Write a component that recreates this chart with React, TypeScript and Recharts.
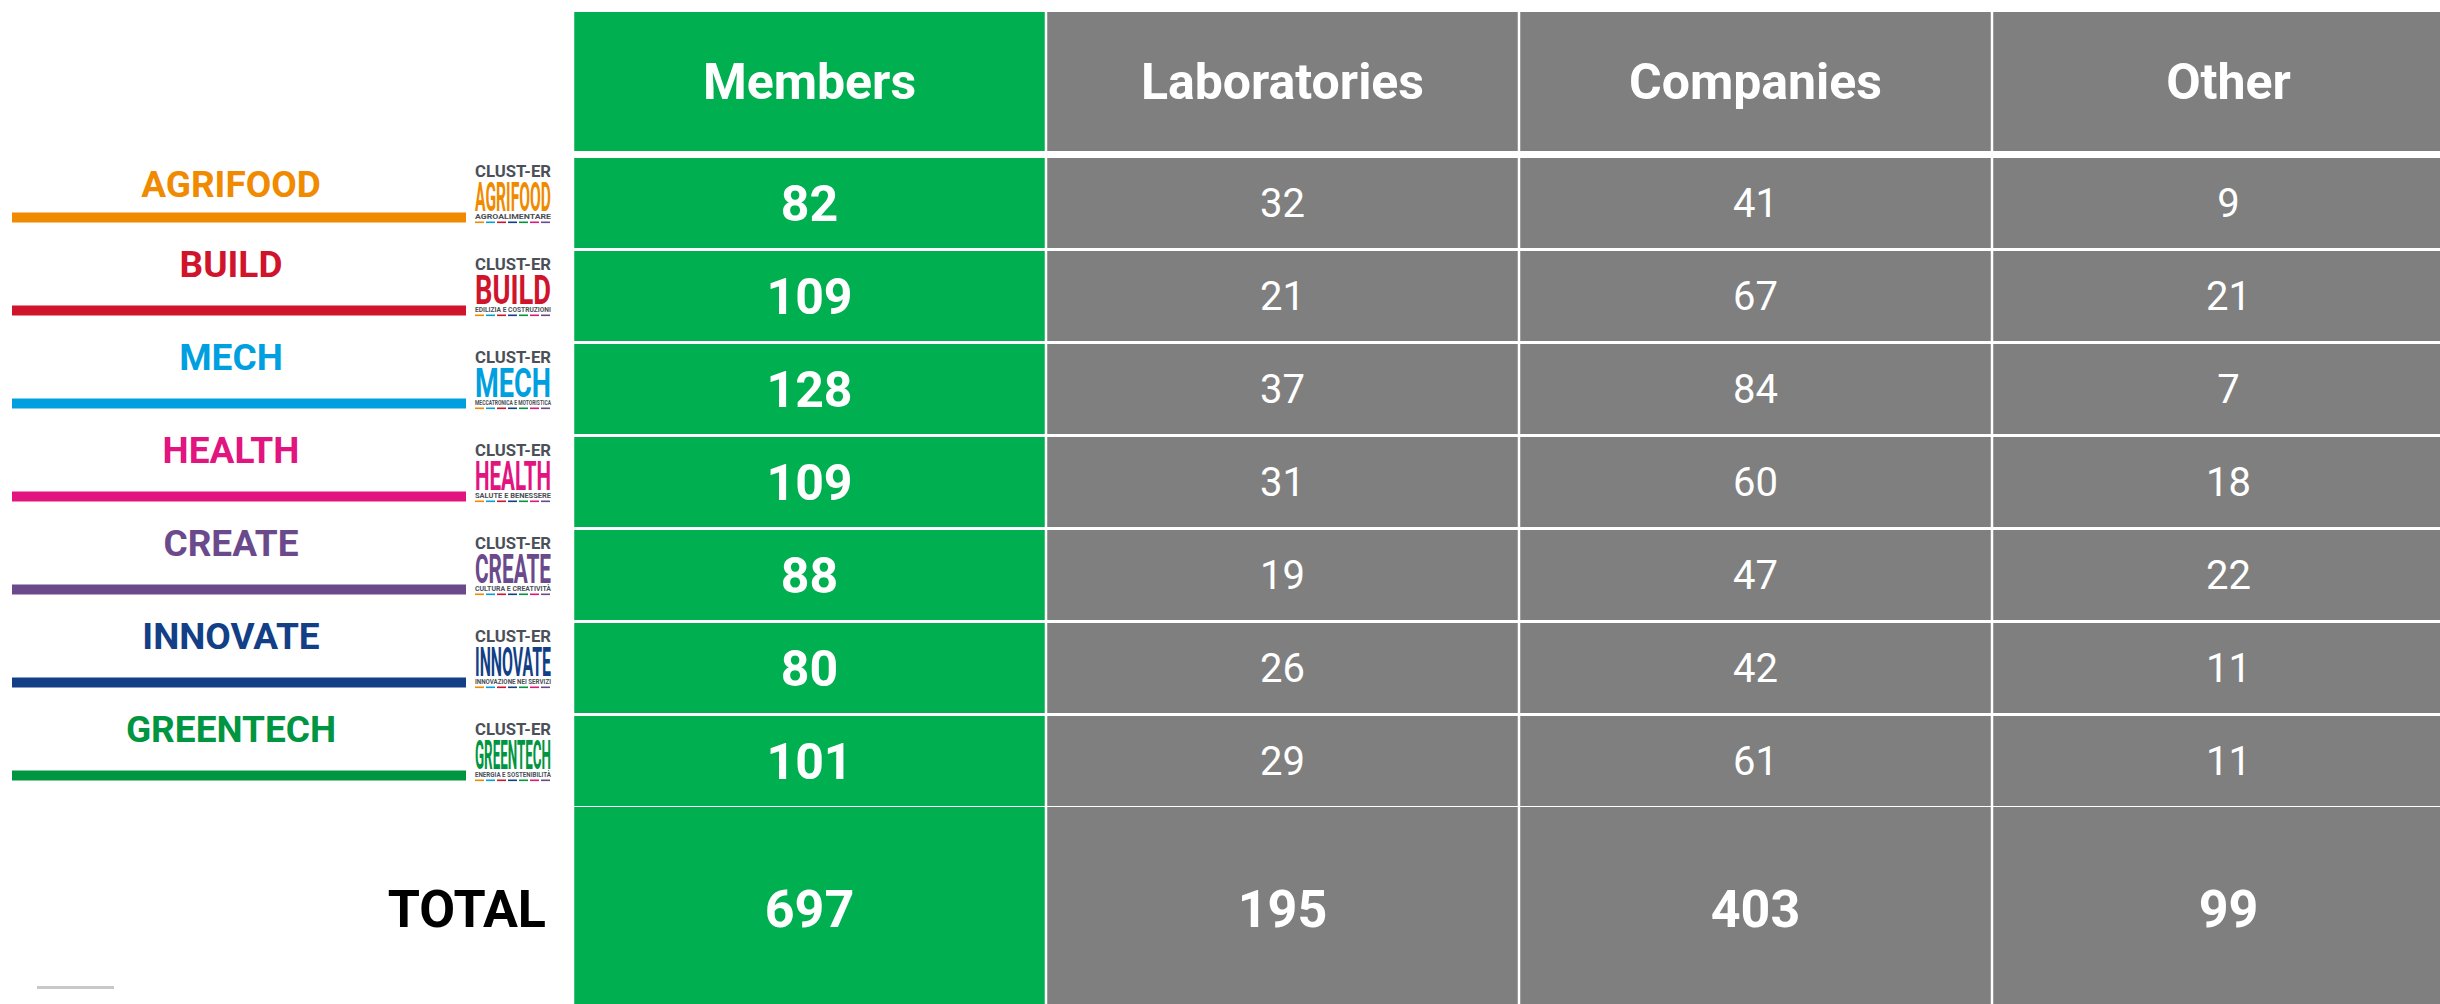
import React from "react";
import { BarChart, Bar, XAxis, YAxis } from "recharts";

const CLUSTERS = ["AGRIFOOD", "BUILD", "MECH", "HEALTH", "CREATE", "INNOVATE", "GREENTECH"];
const CLUSTER_SUBTITLES = [
  "AGROALIMENTARE",
  "EDILIZIA E COSTRUZIONI",
  "MECCATRONICA E MOTORISTICA",
  "SALUTE E BENESSERE",
  "CULTURA E CREATIVITÀ",
  "INNOVAZIONE NEI SERVIZI",
  "ENERGIA E SOSTENIBILITÀ",
];
const CLUSTER_COLORS = ["#f08a00", "#d0142c", "#009fdf", "#e2147f", "#6b4a8c", "#123f86", "#009540"];

const COLUMNS = ["Members", "Laboratories", "Companies", "Other"];
const MEMBERS = [82, 109, 128, 109, 88, 80, 101];
const LABS = [32, 21, 37, 31, 19, 26, 29];
const COMPANIES = [41, 67, 84, 60, 47, 42, 61];
const OTHER = [9, 21, 7, 18, 22, 11, 11];
const TOTALS = [697, 195, 403, 99];

const KEYS = ["members", "labs", "companies", "other"];
const GREEN = "#00b050";
const GREY = "#7f7f7f";
const COLUMN_FILLS = [GREEN, GREY, GREY, GREY];
const LOGO_DASHES = ["#f08a00", "#009fdf", "#d0142c", "#123f86", "#009540", "#e2147f", "#6b4a8c"];
const FONT = "Roboto, sans-serif";

// every column of the table takes one unit on the x axis
const SPANS = KEYS.map(() => () => 1);

const rowData = CLUSTERS.map((name, i) => ({
  name,
  members: MEMBERS[i],
  labs: LABS[i],
  companies: COMPANIES[i],
  other: OTHER[i],
}));
const headerData = [{ name: "header", ...Object.fromEntries(KEYS.map((k, i) => [k, COLUMNS[i]])) }];
const totalData = [{ name: "TOTAL", ...Object.fromEntries(KEYS.map((k, i) => [k, TOTALS[i]])) }];

const LEFT = 573;
const CHART_W = LEFT + 4 * 473;
const HEADER_TOP = 12;
const HEADER_H = 139;
const ROWS_TOP = 156;
const ROWS_H = 651;
const TOTAL_TOP = 807;
const TOTAL_H = 204;

function makeCell(key: string, fill: string, size: number, weight: number) {
  return (p: any) => {
    const { x, y, width, height, payload } = p;
    return (
      <g>
        <rect x={x + 1.25} y={y} width={width - 2.5} height={height} fill={fill} />
        <text
          x={x + width / 2}
          y={y + height / 2 + size * 0.355}
          textAnchor="middle"
          fill="#ffffff"
          fontSize={size}
          fontWeight={weight}
          fontFamily={FONT}
        >
          {payload[key]}
        </text>
      </g>
    );
  };
}

function ClusterTick(props: any) {
  const { y, payload } = props;
  const i = CLUSTERS.indexOf(payload.value);
  const color = CLUSTER_COLORS[i];
  const lineY = y + 15;
  const headerBottom = HEADER_TOP + HEADER_H - ROWS_TOP;
  const textMid = i === 0 ? (headerBottom + lineY) / 2 : lineY - 46.5;
  const top = y - 45;
  const lx = 475;
  const lw = 76;
  return (
    <g>
      <text
        x={231}
        y={textMid + 37 * 0.355}
        textAnchor="middle"
        fill={color}
        fontSize={37}
        fontWeight={700}
        fontFamily={FONT}
      >
        {payload.value}
      </text>
      <rect x={12} y={lineY - 5} width={454} height={10} fill={color} />
      {/* small cluster logo */}
      <text x={lx} y={top + 19} fill="#4b4f58" fontSize={17} fontWeight={700} fontFamily={FONT}
        textLength={lw} lengthAdjust="spacingAndGlyphs">
        CLUST-ER
      </text>
      <text x={lx} y={top + 53} fill={color} fontSize={41} fontWeight={700} fontFamily={FONT}
        textLength={lw} lengthAdjust="spacingAndGlyphs">
        {payload.value}
      </text>
      <text x={lx} y={top + 61} fill="#4b4f58" fontSize={7.5} fontWeight={700} fontFamily={FONT}
        textLength={lw} lengthAdjust="spacingAndGlyphs">
        {CLUSTER_SUBTITLES[i]}
      </text>
      {LOGO_DASHES.map((c, j) => (
        <rect key={j} x={lx + j * 11} y={top + 64} width={9} height={1.6} fill={c} />
      ))}
    </g>
  );
}

function TotalTick(props: any) {
  const { y, payload } = props;
  return (
    <text x={546} y={y + 52 * 0.355} textAnchor="end" fill="#000000" fontSize={52} fontWeight={700} fontFamily={FONT}>
      {payload.value}
    </text>
  );
}

const noMargin = { top: 0, right: 0, bottom: 0, left: 0 };

export default function App() {
  return (
    <div
      style={{
        position: "absolute",
        left: 0,
        top: 0,
        width: 2440,
        height: 1004,
        overflow: "hidden",
        background: "#ffffff",
        fontFamily: FONT,
      }}
    >
      <div style={{ position: "absolute", left: 0, top: HEADER_TOP }}>
        <BarChart width={CHART_W} height={HEADER_H} data={headerData} layout="vertical"
          margin={{ ...noMargin, left: LEFT }} barCategoryGap={0}>
          <XAxis type="number" domain={[0, 4]} hide />
          <YAxis type="category" dataKey="name" hide />
          {KEYS.map((k, i) => (
            <Bar key={k} dataKey={SPANS[i]} stackId="cells" fill={COLUMN_FILLS[i]}
              isAnimationActive={false} shape={makeCell(k, COLUMN_FILLS[i], 50, 700)} />
          ))}
        </BarChart>
      </div>

      <div style={{ position: "absolute", left: 0, top: ROWS_TOP }}>
        <BarChart width={CHART_W} height={ROWS_H} data={rowData} layout="vertical" margin={noMargin} barSize={90}>
          <XAxis type="number" domain={[0, 4]} hide />
          <YAxis type="category" dataKey="name" width={LEFT} axisLine={false} tickLine={false}
            interval={0} tick={ClusterTick} />
          {KEYS.map((k, i) => (
            <Bar key={k} dataKey={SPANS[i]} stackId="cells" fill={COLUMN_FILLS[i]}
              isAnimationActive={false}
              shape={makeCell(k, COLUMN_FILLS[i], i === 0 ? 50 : 40, i === 0 ? 700 : 400)} />
          ))}
        </BarChart>
      </div>

      <div style={{ position: "absolute", left: 0, top: TOTAL_TOP }}>
        <BarChart width={CHART_W} height={TOTAL_H} data={totalData} layout="vertical" margin={noMargin} barCategoryGap={0}>
          <XAxis type="number" domain={[0, 4]} hide />
          <YAxis type="category" dataKey="name" width={LEFT} axisLine={false} tickLine={false}
            interval={0} tick={TotalTick} />
          {KEYS.map((k, i) => (
            <Bar key={k} dataKey={SPANS[i]} stackId="cells" fill={COLUMN_FILLS[i]}
              isAnimationActive={false} shape={makeCell(k, COLUMN_FILLS[i], 52, 700)} />
          ))}
        </BarChart>
      </div>

      <div style={{ position: "absolute", left: 37, top: 986, width: 77, height: 3, background: "#c8c8c8" }} />
    </div>
  );
}
